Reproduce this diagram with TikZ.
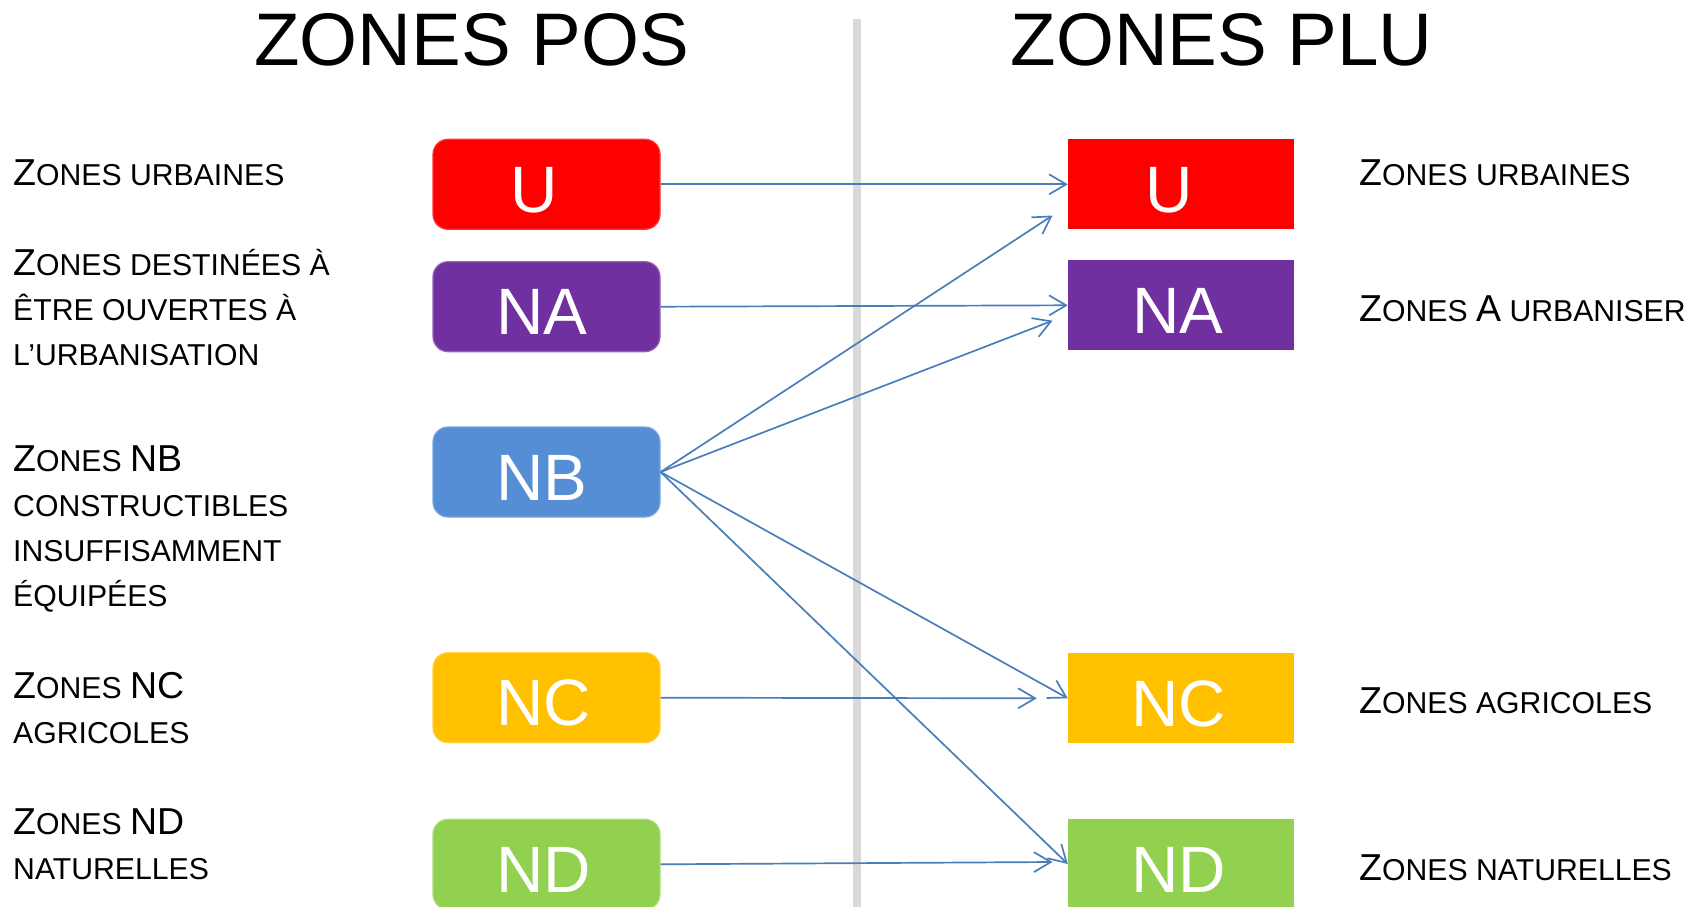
\documentclass[tikz,border=0pt]{standalone}
\usepackage{fontspec}
\setmainfont{Liberation Sans}
\usetikzlibrary{arrows.meta}

\definecolor{zred}{HTML}{FF0000}
\definecolor{zpurple}{HTML}{7030A0}
\definecolor{zblue}{HTML}{558ED5}
\definecolor{zyellow}{HTML}{FFC000}
\definecolor{zgreen}{HTML}{92D050}
\definecolor{linkblue}{HTML}{4A7EBB}
\definecolor{divider}{HTML}{D9D9D9}

% small-caps look: large initial capitals, smaller capitals for the rest
\newcommand{\capbig}{\fontsize{37.5}{45}\selectfont}
\newcommand{\capsmall}{\fontsize{30.2}{45}\selectfont}

\begin{document}
\begin{tikzpicture}[x=1pt,y=-1pt,
  posbox/.style={rectangle, rounded corners=15pt, minimum width=227pt,
    minimum height=90pt, inner sep=0pt, line width=1.2pt},
  plubox/.style={rectangle, minimum width=226pt, minimum height=90pt, inner sep=0pt},
  boxtxt/.style={text=white, font=\fontsize{65.6}{70}\selectfont, anchor=base, inner sep=0pt},
  title/.style={font=\fontsize{74.5}{80}\selectfont, anchor=base, inner sep=0pt},
  desc/.style={anchor=base west, inner sep=0pt},
  arrowlink/.style={draw=linkblue, line width=1.7pt,
    -{Straight Barb[length=17pt,width=20pt]}},
]
\useasboundingbox (0,0) rectangle (1695,907);

% column divider
\draw[divider, line width=8pt] (856.7,19) -- (856.7,907);

% titles
\node[title] (posT) at (471.7,66) {ZONES POS};
\node[title] (pluT) at (1221.7,66) {ZONES PLU};

% POS zones
\node[posbox, fill=zred, draw=zred!80!white] (uL) at (546.5,184.3) {};
\node[posbox, fill=zpurple, draw=zpurple!75!white] (naL) at (546.5,306.7) {};
\node[posbox, fill=zblue, draw=zblue!80!white] (nbL) at (546.5,472) {};
\node[posbox, fill=zyellow, draw=zyellow!75!white] (ncL) at (546.5,697.7) {};
\node[posbox, fill=zgreen, draw=zgreen!75!white] (ndL) at (546.5,864.3) {};

\node[boxtxt] (uL-t) at ([xshift=-12pt,yshift=-28pt]uL.center) {U};
\node[boxtxt] (naL-t) at ([xshift=-4.5pt,yshift=-28pt]naL.center) {NA};
\node[boxtxt] (nbL-t) at ([xshift=-4.5pt,yshift=-28pt]nbL.center) {NB};
\node[boxtxt] (ncL-t) at ([xshift=-3pt,yshift=-28pt]ncL.center) {NC};
\node[boxtxt] (ndL-t) at ([xshift=-3pt,yshift=-28pt]ndL.center) {ND};

% PLU zones
\node[plubox, fill=zred] (uR) at (1181,184.3) {};
\node[plubox, fill=zpurple] (naR) at (1181,305.3) {};
\node[plubox, fill=zyellow] (ncR) at (1181,698.3) {};
\node[plubox, fill=zgreen] (ndR) at (1181,864) {};

\node[boxtxt] (uR-t) at ([xshift=-11.5pt,yshift=-28pt]uR.center) {U};
\node[boxtxt] (naR-t) at ([xshift=-3.2pt,yshift=-28pt]naR.center) {NA};
\node[boxtxt] (ncR-t) at ([xshift=-2.5pt,yshift=-28pt]ncR.center) {NC};
\node[boxtxt] (ndR-t) at ([xshift=-2.5pt,yshift=-28pt]ndR.center) {ND};

% POS descriptions
\node[desc] (dU) at (13,185) {{\capbig Z}{\capsmall ONES URBAINES}};
\node[desc] (dNA1) at (13,275) {{\capbig Z}{\capsmall ONES DESTINÉES À}};
\node[desc] (dNA2) at (13,320) {\capsmall ÊTRE OUVERTES À};
\node[desc] (dNA3) at (13,365) {\capsmall L’URBANISATION};
\node[desc] (dNB1) at (13,471.5) {{\capbig Z}{\capsmall ONES }{\capbig NB}};
\node[desc] (dNB2) at (13,516.5) {\capsmall CONSTRUCTIBLES};
\node[desc] (dNB3) at (13,561.5) {\capsmall INSUFFISAMMENT};
\node[desc] (dNB4) at (13,606) {\capsmall ÉQUIPÉES};
\node[desc] (dNC1) at (13,698.5) {{\capbig Z}{\capsmall ONES }{\capbig NC}};
\node[desc] (dNC2) at (13,743.5) {\capsmall AGRICOLES};
\node[desc] (dND1) at (13,834) {{\capbig Z}{\capsmall ONES }{\capbig ND}};
\node[desc] (dND2) at (13,879) {\capsmall NATURELLES};

% PLU descriptions
\node[desc] (rU) at (1359,185) {{\capbig Z}{\capsmall ONES URBAINES}};
\node[desc] (rNA) at (1359,321.5) {{\capbig Z}{\capsmall ONES }{\capbig A}{\capsmall\ URBANISER}};
\node[desc] (rNC) at (1359,713.3) {{\capbig Z}{\capsmall ONES AGRICOLES}};
\node[desc] (rND) at (1359,880) {{\capbig Z}{\capsmall ONES NATURELLES}};

% arrow ends that stop short of the PLU boxes
\coordinate (uR-in) at ([xshift=-15.3pt,yshift=14pt]uR.south west);
\coordinate (naR-in) at ([xshift=-15.3pt,yshift=-15.4pt]naR.west);
\coordinate (ncR-in) at ([xshift=-31pt]ncR.west);
\coordinate (ndR-in) at ([xshift=-15.3pt,yshift=2pt]ndR.west);

% transitions POS -> PLU
\draw[arrowlink] (uL.east) -- (uR.west);
\draw[arrowlink] (naL.east) -- (naR.west);
\draw[arrowlink] (nbL.east) -- (uR-in);
\draw[arrowlink] (nbL.east) -- (naR-in);
\draw[arrowlink] (nbL.east) -- (ncR.west);
\draw[arrowlink] (nbL.east) -- (ndR.west);
\draw[arrowlink] (ncL.east) -- (ncR-in);
\draw[arrowlink] (ndL.east) -- (ndR-in);
\end{tikzpicture}
\end{document}
